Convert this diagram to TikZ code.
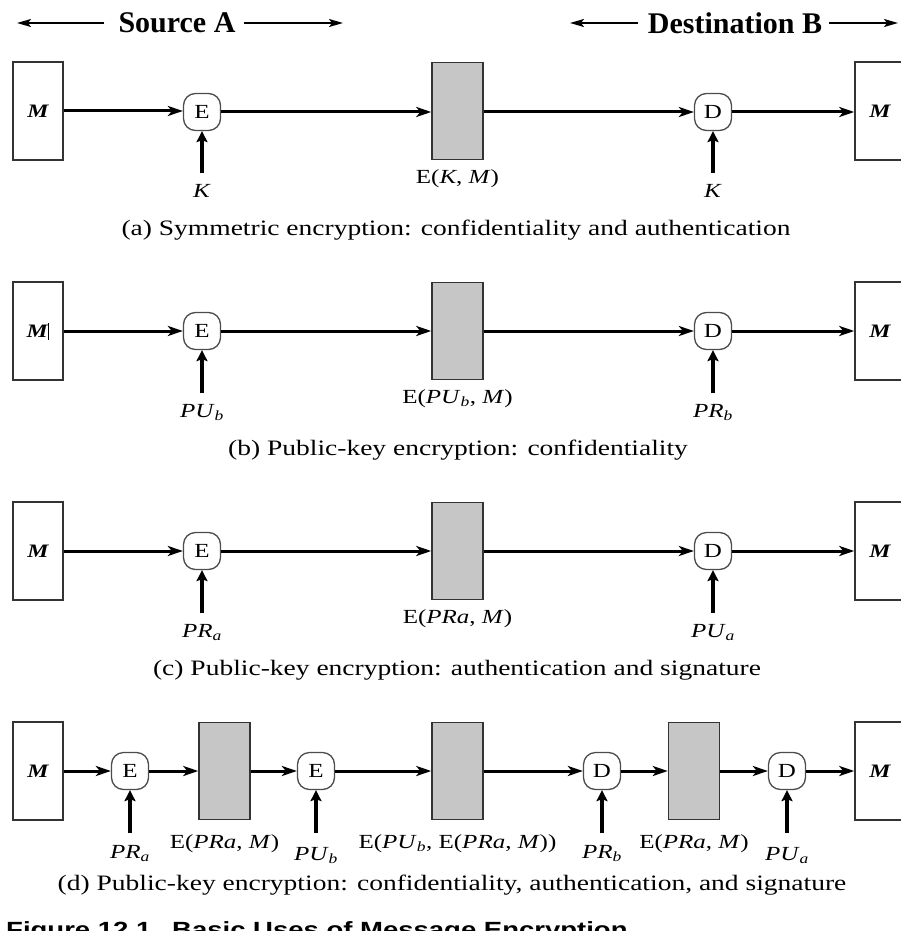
\documentclass[tikz,border=0pt]{standalone}
\usepackage{fontspec}
\setmainfont[FakeStretch=1.25]{Liberation Serif}
\newfontfamily\headfont{Liberation Serif}
\newfontfamily\figfont[FakeStretch=1.25]{Liberation Sans}
\usetikzlibrary{arrows.meta}
\begin{document}
\begin{tikzpicture}[x=1pt,y=-1pt,
  msgbox/.style={draw=black!80, line width=1.5pt, minimum width=50pt, minimum height=98pt, inner sep=0pt, font=\fontsize{19}{21}\selectfont\bfseries\itshape},
  cipher/.style={draw=black!80, fill=gray!45, line width=1.5pt, minimum width=51pt, minimum height=97pt, inner sep=0pt},
  opnode/.style={draw=black!70, rounded corners=12pt, line width=1.3pt, minimum size=37pt, inner sep=0pt, font=\fontsize{20}{22}\selectfont},
  flow/.style={line width=3pt, -{Stealth[length=15pt,width=10pt,inset=4pt]}},
  keyarrow/.style={line width=3.5pt, -{Stealth[length=11pt,width=11pt,inset=2pt]}},
  harrow/.style={line width=1.6pt, -{Stealth[length=14pt,width=8pt,inset=3pt]}},
  lbl/.style={inner sep=0pt, anchor=base, font=\fontsize{20}{22}\selectfont},
  caplbl/.style={inner sep=0pt, anchor=base, font=\fontsize{22}{24}\selectfont},
  headlbl/.style={inner sep=0pt, font=\fontsize{30}{32}\selectfont\headfont\bfseries},
  figlbl/.style={inner sep=0pt, anchor=base west, font=\fontsize{22}{24}\selectfont\figfont\bfseries}
]
\useasboundingbox (0,0) rectangle (901,931);
\clip (0,0) rectangle (901,931);

% ---------- header ----------
\node[headlbl] (srcA) at (177,23) {Source A};
\coordinate (srcL) at (17,23);
\coordinate (srcR) at (343,23);
\draw[harrow] ([xshift=-14pt]srcA.west) -- (srcL);
\draw[harrow] ([xshift=8pt]srcA.east) -- (srcR);
\node[headlbl] (dstB) at (735,23) {Destination B};
\coordinate (dstL) at (570,23);
\coordinate (dstR) at (898,23);
\draw[harrow] ([xshift=-10pt]dstB.west) -- (dstL);
\draw[harrow] ([xshift=7pt]dstB.east) -- (dstR);

% ---------- row (a) ----------
\node[msgbox] (Ma) at (38,111) {M};
\node[opnode] (Ea) at (202,112) {E};
\node[cipher] (Ca) at (457.5,111) {};
\node[opnode] (Da) at (713,112) {D};
\node[msgbox] (Na) at (880,111) {M};
\draw[flow] (Ma) -- (Ma -| Ea.west);
\draw[flow] (Ea) -- (Ea -| Ca.west);
\draw[flow] (Ca.east |- Da) -- (Da);
\draw[flow] (Da) -- (Da -| Na.west);
\node[lbl] (cla) at (457.5,183) {E(\textit{K}, \textit{M})};
\node[lbl] (kEa) at (202,197) {\textit{K}};
\coordinate (kEaT) at (202,173);
\draw[keyarrow] (kEaT) -- (Ea.south);
\node[lbl] (kDa) at (713,197) {\textit{K}};
\coordinate (kDaT) at (713,173);
\draw[keyarrow] (kDaT) -- (Da.south);
\node[caplbl] (capa) at (456,235) {(a) Symmetric encryption: confidentiality and authentication};

% ---------- row (b) ----------
\node[msgbox] (Mb) at (38,331) {M\kern0.5pt\rule[-2pt]{1.1pt}{17pt}};
\node[opnode] (Eb) at (202,331) {E};
\node[cipher] (Cb) at (457.5,331) {};
\node[opnode] (Db) at (713,331) {D};
\node[msgbox] (Nb) at (880,331) {M};
\draw[flow] (Mb) -- (Eb);
\draw[flow] (Eb) -- (Cb);
\draw[flow] (Cb) -- (Db);
\draw[flow] (Db) -- (Nb);
\node[lbl] (clb) at (457.5,403) {E(\textit{PU}\textsubscript{\textit{b}}, \textit{M})};
\node[lbl] (kEb) at (202,417) {\textit{PU}\textsubscript{\textit{b}}};
\coordinate (kEbT) at (202,393);
\draw[keyarrow] (kEbT) -- (Eb.south);
\node[lbl] (kDb) at (713,417) {\textit{PR}\textsubscript{\textit{b}}};
\coordinate (kDbT) at (713,393);
\draw[keyarrow] (kDbT) -- (Db.south);
\node[caplbl] (capb) at (458,455) {(b) Public-key encryption: confidentiality};

% ---------- row (c) ----------
\node[msgbox] (Mc) at (38,551) {M};
\node[opnode] (Ec) at (202,551) {E};
\node[cipher] (Cc) at (457.5,551) {};
\node[opnode] (Dc) at (713,551) {D};
\node[msgbox] (Nc) at (880,551) {M};
\draw[flow] (Mc) -- (Ec);
\draw[flow] (Ec) -- (Cc);
\draw[flow] (Cc) -- (Dc);
\draw[flow] (Dc) -- (Nc);
\node[lbl] (clc) at (457.5,623) {E(\textit{PRa}, \textit{M})};
\node[lbl] (kEc) at (202,637) {\textit{PR}\textsubscript{\textit{a}}};
\coordinate (kEcT) at (202,613);
\draw[keyarrow] (kEcT) -- (Ec.south);
\node[lbl] (kDc) at (713,637) {\textit{PU}\textsubscript{\textit{a}}};
\coordinate (kDcT) at (713,613);
\draw[keyarrow] (kDcT) -- (Dc.south);
\node[caplbl] (capc) at (457,675) {(c) Public-key encryption: authentication and signature};

% ---------- row (d) ----------
\node[msgbox] (Md) at (38,771) {M};
\node[opnode] (Ed1) at (130,771) {E};
\node[cipher] (Cd1) at (224.5,771) {};
\node[opnode] (Ed2) at (316,771) {E};
\node[cipher] (Cd2) at (457.5,771) {};
\node[opnode] (Dd1) at (602,771) {D};
\node[cipher] (Cd3) at (694,771) {};
\node[opnode] (Dd2) at (787,771) {D};
\node[msgbox] (Nd) at (880,771) {M};
\draw[flow] (Md) -- (Ed1);
\draw[flow] (Ed1) -- (Cd1);
\draw[flow] (Cd1) -- (Ed2);
\draw[flow] (Ed2) -- (Cd2);
\draw[flow] (Cd2) -- (Dd1);
\draw[flow] (Dd1) -- (Cd3);
\draw[flow] (Cd3) -- (Dd2);
\draw[flow] (Dd2) -- (Nd);
\node[lbl] (cld1) at (224.5,848) {E(\textit{PRa}, \textit{M})};
\node[lbl] (cld2) at (457.5,848) {E(\textit{PU}\textsubscript{\textit{b}}, E(\textit{PRa}, \textit{M}))};
\node[lbl] (cld3) at (694,848) {E(\textit{PRa}, \textit{M})};
\node[lbl] (kEd1) at (130,858) {\textit{PR}\textsubscript{\textit{a}}};
\coordinate (kEd1T) at (130,833);
\draw[keyarrow] (kEd1T) -- (Ed1.south);
\node[lbl] (kEd2) at (316,860) {\textit{PU}\textsubscript{\textit{b}}};
\coordinate (kEd2T) at (316,833);
\draw[keyarrow] (kEd2T) -- (Ed2.south);
\node[lbl] (kDd1) at (602,858) {\textit{PR}\textsubscript{\textit{b}}};
\coordinate (kDd1T) at (602,833);
\draw[keyarrow] (kDd1T) -- (Dd1.south);
\node[lbl] (kDd2) at (787,860) {\textit{PU}\textsubscript{\textit{a}}};
\coordinate (kDd2T) at (787,833);
\draw[keyarrow] (kDd2T) -- (Dd2.south);
\node[caplbl] (capd) at (452,890) {(d) Public-key encryption: confidentiality, authentication, and signature};

% ---------- cut-off figure title (cropped in the reference too) ----------
\node[figlbl] (fignum) at (6,937) {Figure 12.1};
\node[figlbl] (figttl) at (172,937) {Basic Uses of Message Encryption};
\end{tikzpicture}
\end{document}
